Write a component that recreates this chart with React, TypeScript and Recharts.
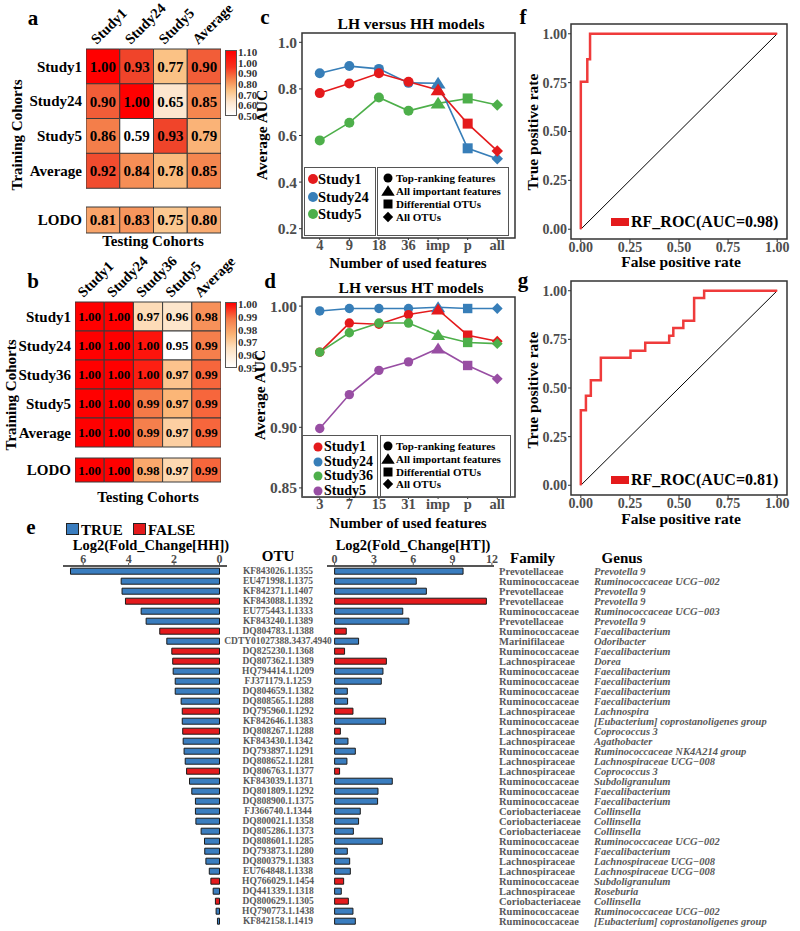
import React from "react";
import {
  BarChart,
  Bar,
  XAxis,
  YAxis,
  Cell,
  LabelList,
  LineChart,
  Line,
  ReferenceArea,
  ReferenceLine,
} from "recharts";

const FONT = '"Liberation Serif", "Times New Roman", serif';
const GREY = "#4d4d4d";
const RED = "#e41a1c";
const BLUE = "#377eb8";
const GREEN = "#4daf4a";
const PURPLE = "#984ea3";

// ---- a: LH vs HH, cross-study AUC
const aTesting = ["Study1", "Study24", "Study5", "Average"];
const aTraining = ["Study1", "Study24", "Study5", "Average"];
const aAuc = [
  [1.0, 0.93, 0.77, 0.9],
  [0.9, 1.0, 0.65, 0.85],
  [0.86, 0.59, 0.93, 0.79],
  [0.92, 0.84, 0.78, 0.85],
];
const aLodo = [0.81, 0.83, 0.75, 0.8];
const aScaleLabels = ["1.10", "1.00", "0.90", "0.80", "0.70", "0.60", "0.50"];

// ---- b: LH vs HT, cross-study AUC
const bTesting = ["Study1", "Study24", "Study36", "Study5", "Average"];
const bTraining = ["Study1", "Study24", "Study36", "Study5", "Average"];
const bAuc = [
  [1.0, 1.0, 0.966, 0.962, 0.983],
  [1.0, 1.0, 0.998, 0.95, 0.987],
  [1.0, 1.0, 0.997, 0.972, 0.99],
  [1.0, 1.0, 0.988, 0.975, 0.99],
  [1.0, 1.0, 0.987, 0.969, 0.99],
];
const bLodo = [1.0, 1.0, 0.978, 0.967, 0.99];
const bScaleLabels = ["1.00", "0.99", "0.98", "0.97", "0.96", "0.95"];

// ---- c: LH versus HH models
const cFeatures = ["4", "9", "18", "36", "imp", "p", "all"];
const cStudy1 = [0.782, 0.823, 0.867, 0.831, 0.795, 0.651, 0.534];
const cStudy24 = [0.867, 0.898, 0.886, 0.826, 0.824, 0.545, 0.5];
const cStudy5 = [0.579, 0.655, 0.763, 0.706, 0.738, 0.759, 0.731];

// ---- d: LH versus HT models
const dFeatures = ["3", "7", "15", "31", "imp", "p", "all"];
const dStudy1 = [0.962, 0.986, 0.985, 0.993, 0.997, 0.976, 0.971];
const dStudy24 = [0.996, 0.998, 0.998, 0.998, 0.999, 0.998, 0.998];
const dStudy36 = [0.962, 0.978, 0.986, 0.986, 0.976, 0.97, 0.969];
const dStudy5 = [0.899, 0.927, 0.947, 0.954, 0.965, 0.951, 0.94];

const featureShapes = ["circle", "circle", "circle", "circle", "triangle", "square", "diamond"];
const shapeLegend = ["Top-ranking features", "All important features", "Differential OTUs", "All OTUs"];
const shapeLegendKinds = ["circle", "triangle", "square", "diamond"];

// ---- f / g: ROC curves
const fFpr = [0, 0, 0.033, 0.033, 0.047, 0.047, 1];
const fTpr = [0, 0.755, 0.755, 0.87, 0.87, 1, 1];
const gFpr = [0, 0, 0.026, 0.026, 0.051, 0.051, 0.102, 0.102, 0.253, 0.253, 0.328, 0.328, 0.45, 0.45, 0.471, 0.471, 0.522, 0.522, 0.577, 0.577, 0.628, 0.628, 1];
const gTpr = [0, 0.385, 0.385, 0.46, 0.46, 0.54, 0.54, 0.655, 0.655, 0.692, 0.692, 0.732, 0.732, 0.769, 0.769, 0.809, 0.809, 0.846, 0.846, 0.962, 0.962, 1, 1];
const rocTicks = [0, 0.25, 0.5, 0.75, 1];

// ---- e: differential OTUs
const otuIds = [
  "KF843026.1.1355", "EU471998.1.1375", "KF842371.1.1407", "KF843088.1.1392", "EU775443.1.1333",
  "KF843240.1.1389", "DQ804783.1.1388", "CDTY01027388.3437.4940", "DQ825230.1.1368", "DQ807362.1.1389",
  "HQ794414.1.1209", "FJ371179.1.1259", "DQ804659.1.1382", "DQ808565.1.1288", "DQ795960.1.1292",
  "KF842646.1.1383", "DQ808267.1.1288", "KF843430.1.1342", "DQ793897.1.1291", "DQ808652.1.1281",
  "DQ806763.1.1377", "KF843039.1.1371", "DQ801809.1.1292", "DQ808900.1.1375", "FJ366740.1.1344",
  "DQ800021.1.1358", "DQ805286.1.1373", "DQ808601.1.1285", "DQ793873.1.1280", "DQ800379.1.1383",
  "EU764848.1.1338", "HQ766029.1.1454", "DQ441339.1.1318", "DQ800629.1.1305", "HQ790773.1.1438",
  "KF842158.1.1419",
];
const otuFamily = [
  "Prevotellaceae", "Ruminococcaceae", "Prevotellaceae", "Prevotellaceae", "Ruminococcaceae",
  "Prevotellaceae", "Ruminococcaceae", "Marinifilaceae", "Ruminococcaceae", "Lachnospiraceae",
  "Ruminococcaceae", "Ruminococcaceae", "Ruminococcaceae", "Ruminococcaceae", "Lachnospiraceae",
  "Ruminococcaceae", "Lachnospiraceae", "Lachnospiraceae", "Ruminococcaceae", "Lachnospiraceae",
  "Lachnospiraceae", "Ruminococcaceae", "Ruminococcaceae", "Ruminococcaceae", "Coriobacteriaceae",
  "Coriobacteriaceae", "Coriobacteriaceae", "Ruminococcaceae", "Ruminococcaceae", "Lachnospiraceae",
  "Lachnospiraceae", "Ruminococcaceae", "Lachnospiraceae", "Coriobacteriaceae", "Ruminococcaceae",
  "Ruminococcaceae",
];
const otuGenus = [
  "Prevotella 9", "Ruminococcaceae UCG\u2212002", "Prevotella 9", "Prevotella 9", "Ruminococcaceae UCG\u2212003",
  "Prevotella 9", "Faecalibacterium", "Odoribacter", "Faecalibacterium", "Dorea",
  "Faecalibacterium", "Faecalibacterium", "Faecalibacterium", "Faecalibacterium", "Lachnospira",
  "[Eubacterium] coprostanoligenes group", "Coprococcus 3", "Agathobacter", "Ruminococcaceae NK4A214 group", "Lachnospiraceae UCG\u2212008",
  "Coprococcus 3", "Subdoligranulum", "Faecalibacterium", "Faecalibacterium", "Collinsella",
  "Collinsella", "Collinsella", "Ruminococcaceae UCG\u2212002", "Faecalibacterium", "Lachnospiraceae UCG\u2212008",
  "Lachnospiraceae UCG\u2212008", "Subdoligranulum", "Roseburia", "Collinsella", "Ruminococcaceae UCG\u2212002",
  "[Eubacterium] coprostanoligenes group",
];
const log2FcHH = [
  6.56, 4.33, 4.29, 4.14, 3.45, 3.23, 2.63, 2.32, 2.1, 2.06, 2.04, 1.95, 1.95, 1.69, 1.64, 1.64, 1.62, 1.6,
  1.56, 1.51, 1.45, 1.32, 1.22, 1.06, 1.06, 1.04, 0.81, 0.66, 0.65, 0.6, 0.45, 0.38, 0.28, 0.18, 0.15, 0.09,
];
const log2FcHT = [
  9.8, 6.23, 7.0, 11.58, 5.2, 5.67, 0.89, 1.83, 0.76, 3.95, 3.69, 3.56, 0.97, 0.99, 1.4, 3.89, 0.44, 1.02,
  1.58, 0.94, 0.38, 4.4, 3.31, 3.28, 1.96, 1.83, 1.43, 3.64, 0.97, 1.15, 1.2, 0.69, 0.51, 1.05, 1.4, 1.58,
];
const consistent = [
  true, true, true, false, true, true, false, true, false, false, true, true, true, true, false, true, false, true,
  true, true, false, true, true, true, true, true, true, true, true, true, true, false, true, false, true, true,
];

const aColourStops: [number, string][] = [
  [0.59, "#ffffff"], [0.65, "#fde6cf"], [0.77, "#fbc285"], [0.85, "#f5864f"], [0.93, "#f0442a"], [1.0, "#ff0000"],
];
const bColourStops: [number, string][] = [
  [0.95, "#ffffff"], [0.965, "#fde0bf"], [0.975, "#fbb677"], [0.988, "#f57a48"], [1.0, "#ff0000"],
];

function hex(c: string) {
  return [1, 3, 5].map((i) => parseInt(c.slice(i, i + 2), 16));
}

function heatColour(stops: [number, string][], v: number) {
  if (v <= stops[0][0]) return stops[0][1];
  for (let i = 1; i < stops.length; i++) {
    if (v <= stops[i][0]) {
      const [v0, c0] = stops[i - 1];
      const [v1, c1] = stops[i];
      const t = (v - v0) / (v1 - v0);
      const a = hex(c0);
      const b = hex(c1);
      return `rgb(${a.map((x, k) => Math.round(x + (b[k] - x) * t)).join(",")})`;
    }
  }
  return stops[stops.length - 1][1];
}

function Txt({ x, y, children, size = 14, anchor = "middle", rotate = 0, color = "#000", italic = false }: any) {
  const tx = anchor === "middle" ? "-50%" : anchor === "end" ? "-100%" : "0";
  return (
    <div
      style={{
        position: "absolute",
        left: x,
        top: y,
        transform: `translate(${tx},-50%) rotate(${rotate}deg)`,
        whiteSpace: "nowrap",
        fontSize: size,
        fontWeight: "bold",
        fontStyle: italic ? "italic" : "normal",
        color,
        lineHeight: 1,
        fontFamily: FONT,
      }}
    >
      {children}
    </div>
  );
}

function Box({ x, y, w, h, children }: any) {
  return (
    <div style={{ position: "absolute", left: x, top: y, width: w, height: h }}>{children}</div>
  );
}

function shapeEl(kind: string, cx: number, cy: number, r: number, color: string, key?: string) {
  if (kind === "triangle") {
    const s = r * 1.3;
    return <polygon key={key} points={`${cx},${cy - s} ${cx - s * 1.15},${cy + s * 0.8} ${cx + s * 1.15},${cy + s * 0.8}`} fill={color} />;
  }
  if (kind === "square") {
    return <rect key={key} x={cx - r} y={cy - r} width={2 * r} height={2 * r} fill={color} />;
  }
  if (kind === "diamond") {
    const s = r * 1.15;
    return <polygon key={key} points={`${cx},${cy - s} ${cx + s},${cy} ${cx},${cy + s} ${cx - s},${cy}`} fill={color} />;
  }
  return <circle key={key} cx={cx} cy={cy} r={r} fill={color} />;
}

function Sym({ x, y, kind, r, color }: any) {
  return (
    <svg style={{ position: "absolute", left: x - 8, top: y - 8 }} width={16} height={16}>
      {shapeEl(kind, 8, 8, r, color)}
    </svg>
  );
}

function makeDot(color: string, r: number) {
  return (p: any) => shapeEl(featureShapes[p.index], p.cx, p.cy, r, color, `dot-${color}-${p.index}`);
}

function ColTick(props: any) {
  const { x, y, payload, labels, size } = props;
  const label = labels[Math.floor(payload.value)];
  const tx = x - 6;
  const ty = y - 4;
  return (
    <text x={tx} y={ty} transform={`rotate(-45 ${tx} ${ty})`} textAnchor="start" fontSize={size} fontWeight="bold" fontFamily={FONT} fill="#000">
      {label}
    </text>
  );
}

function Heatmap(props: any) {
  const { rows, cols, values, stops, width, height, margin, yWidth, topHeight, showCols, cellFont, colFont } = props;
  const data = rows.map((r: string, i: number) => {
    const row: any = { name: r };
    cols.forEach((_: string, j: number) => {
      row[`w${j}`] = 1;
      row[`v${j}`] = values[i][j];
    });
    return row;
  });
  return (
    <BarChart layout="vertical" width={width} height={height} data={data} margin={margin} barCategoryGap={0}>
      <XAxis
        type="number"
        orientation="top"
        domain={[0, cols.length]}
        allowDataOverflow
        hide={!showCols}
        height={topHeight}
        ticks={cols.map((_: string, j: number) => j + 0.5)}
        interval={0}
        axisLine={false}
        tickLine={false}
        tickSize={0}
        tickMargin={0}
        tick={(p: any) => <ColTick {...p} labels={cols} size={colFont} />}
      />
      <YAxis
        type="category"
        dataKey="name"
        width={yWidth}
        interval={0}
        axisLine={false}
        tickLine={false}
        tickSize={0}
        tickMargin={4}
        tick={{ fill: "#000", fontSize: 15, fontWeight: "bold", fontFamily: FONT }}
      />
      {cols.map((_: string, j: number) => (
        <Bar key={j} dataKey={`w${j}`} stackId="cells" isAnimationActive={false} stroke="#3a3a3a" strokeWidth={1}>
          {data.map((row: any, i: number) => (
            <Cell key={i} fill={heatColour(stops, row[`v${j}`])} />
          ))}
          <LabelList
            dataKey={`v${j}`}
            position="center"
            formatter={(v: any) => Number(v).toFixed(2)}
            fill="#000"
            fontSize={cellFont}
            fontWeight="bold"
            fontFamily={FONT}
          />
        </Bar>
      ))}
    </BarChart>
  );
}

function ColourBar({ x, y, w, h, labels, gradient }: any) {
  const step = (h - 2) / (labels.length - 1);
  return (
    <>
      <div style={{ position: "absolute", left: x, top: y, width: w, height: h, background: gradient, border: "1px solid #555", boxSizing: "border-box" }} />
      {labels.map((l: string, i: number) => (
        <Txt key={l} x={x + w + 1} y={y + 2 + i * step} size={11} anchor="start" color="#333">
          {l}
        </Txt>
      ))}
    </>
  );
}

const tickStyle = { fill: GREY, fontSize: 15.5, fontWeight: "bold", fontFamily: FONT };

function FeatureChart(props: any) {
  const { features, series, domain, yTicks, digits, width, height, margin, xHeight, r } = props;
  const data = features.map((_: string, i: number) => {
    const row: any = { i };
    series.forEach((s: any) => {
      row[s.name] = s.values[i];
    });
    return row;
  });
  return (
    <LineChart width={width} height={height} data={data} margin={margin}>
      <XAxis
        dataKey="i"
        type="number"
        domain={[-0.6, features.length - 0.4]}
        allowDataOverflow
        ticks={features.map((_: string, i: number) => i)}
        interval={0}
        tickFormatter={(v: number) => features[v]}
        height={xHeight}
        axisLine={false}
        tickLine={{ stroke: "#333" }}
        tickSize={2}
        tickMargin={0}
        tick={{ ...tickStyle, fontSize: 14.5 }}
      />
      <YAxis
        type="number"
        domain={domain}
        allowDataOverflow
        ticks={yTicks}
        interval={0}
        tickFormatter={(v: number) => v.toFixed(digits)}
        width={52}
        axisLine={false}
        tickLine={{ stroke: "#333" }}
        tickSize={3}
        tickMargin={2}
        tick={tickStyle}
      />
      <ReferenceArea x1={-0.6} x2={features.length - 0.4} y1={domain[0]} y2={domain[1]} fill="none" stroke="#333" strokeWidth={1.5} />
      {series.map((s: any) => (
        <Line
          key={s.name}
          dataKey={s.name}
          type="linear"
          stroke={s.color}
          strokeWidth={1.6}
          isAnimationActive={false}
          dot={makeDot(s.color, r)}
        />
      ))}
    </LineChart>
  );
}

function RocChart({ fpr, tpr, width, height, margin, xHeight }: any) {
  const data = fpr.map((x: number, i: number) => ({ fpr: x, tpr: tpr[i] }));
  return (
    <LineChart width={width} height={height} data={data} margin={margin}>
      <XAxis
        dataKey="fpr"
        type="number"
        domain={[-0.05, 1.05]}
        allowDataOverflow
        ticks={rocTicks}
        interval={0}
        tickFormatter={(v: number) => v.toFixed(2)}
        height={xHeight}
        axisLine={false}
        tickLine={{ stroke: "#333" }}
        tickSize={3}
        tickMargin={0}
        tick={{ ...tickStyle, fontSize: 14 }}
      />
      <YAxis
        type="number"
        domain={[-0.05, 1.05]}
        allowDataOverflow
        ticks={rocTicks}
        interval={0}
        tickFormatter={(v: number) => v.toFixed(2)}
        width={41}
        axisLine={false}
        tickLine={{ stroke: "#333" }}
        tickSize={3}
        tickMargin={1}
        tick={{ ...tickStyle, fontSize: 14 }}
      />
      <ReferenceArea x1={-0.05} x2={1.05} y1={-0.05} y2={1.05} fill="none" stroke="#333" strokeWidth={1.5} />
      <ReferenceLine segment={[{ x: 0, y: 0 }, { x: 1, y: 1 }]} stroke="#000" strokeWidth={1} />
      <Line dataKey="tpr" type="linear" stroke="#ef3b3b" strokeWidth={2.5} dot={false} isAnimationActive={false} />
    </LineChart>
  );
}

const eData = otuIds.map((id, i) => ({
  otu: id,
  hh: log2FcHH[i],
  ht: log2FcHT[i],
  ok: consistent[i],
}));

function OtuTick({ x, y, payload }: any) {
  return (
    <text x={x + 51} y={y} dy="0.35em" textAnchor="middle" fontSize={9.5} fontWeight="bold" fontFamily={FONT} fill="#595959">
      {payload.value}
    </text>
  );
}

function TaxonTick({ x, y, payload }: any) {
  const i = otuIds.indexOf(payload.value);
  return (
    <g>
      <text x={x + 5} y={y} dy="0.35em" fontSize={10.5} fontWeight="bold" fontFamily={FONT} fill="#595959">
        {otuFamily[i]}
      </text>
      <text x={x + 100} y={y} dy="0.35em" fontSize={10.5} fontWeight="bold" fontStyle="italic" fontFamily={FONT} fill="#595959">
        {otuGenus[i]}
      </text>
    </g>
  );
}

const eTick = { fill: GREY, fontSize: 12, fontWeight: "bold", fontFamily: FONT };

function FoldChart({ dataKey, domain, ticks, reversed, width, margin, yTick, yWidth }: any) {
  return (
    <BarChart layout="vertical" width={width} height={411} data={eData} margin={margin} barCategoryGap="22%">
      <XAxis
        type="number"
        orientation="top"
        reversed={reversed}
        domain={domain}
        allowDataOverflow
        ticks={ticks}
        interval={0}
        height={20}
        axisLine={{ stroke: "#555", strokeWidth: 2 }}
        tickLine={{ stroke: "#555" }}
        tickSize={3}
        tickMargin={0}
        tick={eTick}
      />
      <YAxis type="category" dataKey="otu" orientation="right" width={yWidth} interval={0} axisLine={false} tickLine={false} tickSize={0} tickMargin={0} tick={yTick} />
      <Bar dataKey={dataKey} isAnimationActive={false} stroke="#1a1a1a" strokeWidth={1}>
        {eData.map((d, i) => (
          <Cell key={i} fill={d.ok ? "#3a7dbf" : "#e41a1c"} />
        ))}
      </Bar>
    </BarChart>
  );
}

export default function App() {
  return (
    <div style={{ position: "absolute", left: 0, top: 0, width: 800, height: 931, background: "#fff", fontFamily: FONT, overflow: "hidden" }}>
      {/* panel letters */}
      <Txt x={33} y={18} size={21}>a</Txt>
      <Txt x={33} y={281} size={21}>b</Txt>
      <Txt x={265} y={17} size={21}>c</Txt>
      <Txt x={270} y={281} size={21}>d</Txt>
      <Txt x={31} y={527} size={21}>e</Txt>
      <Txt x={523} y={17} size={21}>f</Txt>
      <Txt x={523} y={280} size={21}>g</Txt>

      {/* a */}
      <Box x={0} y={0} w={250} h={200}>
        <Heatmap rows={aTraining} cols={aTesting} values={aAuc} stops={aColourStops} width={250} height={200}
          margin={{ top: 0, right: 29, bottom: 12, left: 0 }} yWidth={86} topHeight={49} showCols cellFont={15} colFont={14.5} />
      </Box>
      <Box x={0} y={200} w={250} h={40}>
        <Heatmap rows={["LODO"]} cols={aTesting} values={[aLodo]} stops={aColourStops} width={250} height={40}
          margin={{ top: 7, right: 29, bottom: 7, left: 0 }} yWidth={86} topHeight={0} showCols={false} cellFont={15} colFont={14.5} />
      </Box>
      <ColourBar x={225} y={50} w={12} h={66} labels={aScaleLabels}
        gradient="linear-gradient(to bottom, #ff0000 0%, #f8321e 25%, #f5864f 45%, #fbc285 62%, #fde6cf 80%, #ffffff 100%)" />
      <Txt x={153} y={241} size={15}>Testing Cohorts</Txt>
      <Txt x={17} y={135} size={15} rotate={-90}>Training Cohorts</Txt>

      {/* b */}
      <Box x={0} y={250} w={250} h={205}>
        <Heatmap rows={bTraining} cols={bTesting} values={bAuc} stops={bColourStops} width={250} height={205}
          margin={{ top: 0, right: 29, bottom: 8, left: 0 }} yWidth={75} topHeight={52} showCols cellFont={13} colFont={14.5} />
      </Box>
      <Box x={0} y={452} w={250} h={36}>
        <Heatmap rows={["LODO"]} cols={bTesting} values={[bLodo]} stops={bColourStops} width={250} height={36}
          margin={{ top: 6, right: 29, bottom: 6, left: 0 }} yWidth={75} topHeight={0} showCols={false} cellFont={13} colFont={14.5} />
      </Box>
      <ColourBar x={225} y={302} w={12} h={66} labels={bScaleLabels}
        gradient="linear-gradient(to bottom, #ff0000 0%, #f57a48 25%, #fbb677 50%, #fde0bf 70%, #ffffff 100%)" />
      <Txt x={148} y={497} size={15}>Testing Cohorts</Txt>
      <Txt x={11} y={395} size={15} rotate={-90}>Training Cohorts</Txt>

      {/* c */}
      <Box x={250} y={0} w={280} h={275}>
        <FeatureChart features={cFeatures} domain={[0.16, 1.04]} yTicks={[0.2, 0.4, 0.6, 0.8, 1.0]} digits={1}
          width={280} height={275} margin={{ top: 33, right: 15, bottom: 0, left: 0 }} xHeight={37} r={5}
          series={[
            { name: "Study5", values: cStudy5, color: GREEN },
            { name: "Study24", values: cStudy24, color: BLUE },
            { name: "Study1", values: cStudy1, color: RED },
          ]} />
      </Box>
      <Txt x={411} y={24} size={15.5}>LH versus HH models</Txt>
      <Txt x={262} y={135} size={15.5} rotate={-90}>Average AUC</Txt>
      <Txt x={408} y={263} size={15}>Number of used features</Txt>
      <div style={{ position: "absolute", left: 304, top: 167, width: 72, height: 69, border: "1px solid #555", boxSizing: "border-box" }} />
      <div style={{ position: "absolute", left: 377, top: 167, width: 132, height: 69, border: "1px solid #555", boxSizing: "border-box" }} />
      {[["Study1", RED], ["Study24", BLUE], ["Study5", GREEN]].map(([n, c], i) => (
        <React.Fragment key={n}>
          <Sym x={313} y={179 + i * 17.5} kind="circle" r={5} color={c} />
          <Txt x={318} y={179 + i * 17.5} size={14.5} anchor="start">{n}</Txt>
        </React.Fragment>
      ))}
      {shapeLegend.map((n, i) => (
        <React.Fragment key={n}>
          <Sym x={388} y={178 + i * 13} kind={shapeLegendKinds[i]} r={4.5} color="#000" />
          <Txt x={396} y={178 + i * 13} size={11} anchor="start">{n}</Txt>
        </React.Fragment>
      ))}

      {/* d */}
      <Box x={250} y={260} w={280} h={275}>
        <FeatureChart features={dFeatures} domain={[0.8425, 1.0075]} yTicks={[0.85, 0.9, 0.95, 1.0]} digits={2}
          width={280} height={275} margin={{ top: 37, right: 15, bottom: 0, left: 0 }} xHeight={38} r={4.7}
          series={[
            { name: "Study5", values: dStudy5, color: PURPLE },
            { name: "Study24", values: dStudy24, color: BLUE },
            { name: "Study1", values: dStudy1, color: RED },
            { name: "Study36", values: dStudy36, color: GREEN },
          ]} />
      </Box>
      <Txt x={411} y={288} size={15.5}>LH versus HT models</Txt>
      <Txt x={260} y={395} size={15.5} rotate={-90}>Average AUC</Txt>
      <Txt x={408} y={523} size={15}>Number of used features</Txt>
      <div style={{ position: "absolute", left: 302, top: 435, width: 76, height: 63, border: "1px solid #555", boxSizing: "border-box" }} />
      <div style={{ position: "absolute", left: 380, top: 435, width: 131, height: 63, border: "1px solid #555", boxSizing: "border-box" }} />
      {[["Study1", RED], ["Study24", BLUE], ["Study36", GREEN], ["Study5", PURPLE]].map(([n, c], i) => (
        <React.Fragment key={n}>
          <Sym x={318} y={447 + i * 14.5} kind="circle" r={4.5} color={c} />
          <Txt x={324} y={447 + i * 14.5} size={14} anchor="start">{n}</Txt>
        </React.Fragment>
      ))}
      {shapeLegend.map((n, i) => (
        <React.Fragment key={n}>
          <Sym x={388} y={446 + i * 12.8} kind={shapeLegendKinds[i]} r={4.5} color="#000" />
          <Txt x={396} y={446 + i * 12.8} size={11} anchor="start">{n}</Txt>
        </React.Fragment>
      ))}

      {/* f */}
      <Box x={530} y={0} w={270} h={275}>
        <RocChart fpr={fFpr} tpr={fTpr} width={270} height={275} margin={{ top: 24, right: 13, bottom: 0, left: 0 }} xHeight={36} />
      </Box>
      <Txt x={533} y={132} size={15.5} rotate={-90}>True positive rate</Txt>
      <Txt x={681} y={262} size={15.5}>False positive rate</Txt>
      <div style={{ position: "absolute", left: 611, top: 218, width: 18, height: 8, background: "#e41a1c" }} />
      <Txt x={631} y={222} size={16} anchor="start">RF_ROC(AUC=0.98)</Txt>

      {/* g */}
      <Box x={530} y={260} w={270} h={275}>
        <RocChart fpr={gFpr} tpr={gTpr} width={270} height={275} margin={{ top: 21, right: 13, bottom: 0, left: 0 }} xHeight={40} />
      </Box>
      <Txt x={533} y={390} size={15.5} rotate={-90}>True positive rate</Txt>
      <Txt x={681} y={519} size={15.5}>False positive rate</Txt>
      <div style={{ position: "absolute", left: 611, top: 476, width: 18, height: 8, background: "#e41a1c" }} />
      <Txt x={631} y={480} size={16} anchor="start">RF_ROC(AUC=0.81)</Txt>

      {/* e */}
      <div style={{ position: "absolute", left: 66, top: 523, width: 13, height: 12, background: "#3a7dbf", border: "1px solid #222", boxSizing: "border-box" }} />
      <Txt x={81} y={530} size={15} anchor="start">TRUE</Txt>
      <div style={{ position: "absolute", left: 133, top: 523, width: 13, height: 12, background: "#e41a1c", border: "1px solid #222", boxSizing: "border-box" }} />
      <Txt x={148} y={530} size={15} anchor="start">FALSE</Txt>
      <Txt x={151} y={545} size={14.5}>Log2(Fold_Change[HH])</Txt>
      <Txt x={413} y={545} size={14.5}>Log2(Fold_Change[HT])</Txt>
      <Txt x={278} y={556} size={15}>OTU</Txt>
      <Txt x={510} y={558} size={15} anchor="start">Family</Txt>
      <Txt x={622} y={558} size={15}>Genus</Txt>
      <Box x={0} y={520} w={345} h={411}>
        <FoldChart dataKey="hh" domain={[-0.33, 6.89]} ticks={[0, 2, 4, 6]} reversed width={345}
          margin={{ top: 26, right: 3, bottom: 5, left: 63 }} yTick={<OtuTick />} yWidth={115} />
      </Box>
      <Box x={300} y={520} w={500} h={411}>
        <FoldChart dataKey="ht" domain={[-0.58, 12.16]} ticks={[0, 3, 6, 9, 12]} reversed={false} width={500}
          margin={{ top: 26, right: 6, bottom: 5, left: 27 }} yTick={<TaxonTick />} yWidth={300} />
      </Box>
    </div>
  );
}
